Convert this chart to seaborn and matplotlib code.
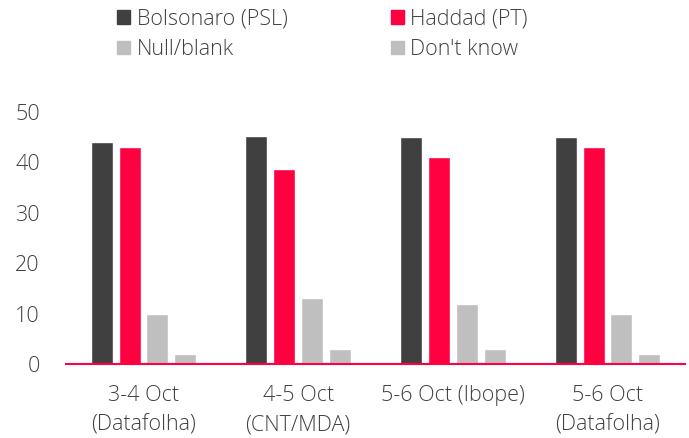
import pandas as pd
import matplotlib.pyplot as plt
import seaborn as sns

# Poll data (second round voting intention, %)
polls = ["3-4 Oct\n(Datafolha)", "4-5 Oct\n(CNT/MDA)", "5-6 Oct (Ibope)", "5-6 Oct\n(Datafolha)"]
series = ["Bolsonaro (PSL)", "Haddad (PT)", "Null/blank", "Don't know"]
bolsonaro = [44, 45.3, 45, 45]
haddad = [43, 38.8, 41, 43]
null_blank = [10, 13, 12, 10]
dont_know = [2, 3, 3, 2]
colors = ["#404040", "#FF0040", "#BFBFBF", "#BFBFBF"]

rows = []
for name, vals in zip(series, [bolsonaro, haddad, null_blank, dont_know]):
    for p, v in zip(polls, vals):
        rows.append({"Poll": p, "Series": name, "Value": v})
df = pd.DataFrame(rows)

sns.set_style("white")
plt.rcParams["font.family"] = ["Open Sans", "DejaVu Sans"]
plt.rcParams["font.weight"] = "light"

fig = plt.figure(figsize=(6.89, 4.38), dpi=100)
ax = fig.add_axes([0.096, 0.169, 0.898, 0.575])

sns.barplot(data=df, x="Poll", y="Value", hue="Series", palette=colors,
            width=0.72, gap=0.21, saturation=1, ax=ax, legend=False)

ax.set_ylim(0, 50)
ax.set_xlim(-0.5, 3.5)
ax.set_yticks([0, 10, 20, 30, 40, 50])
ax.set_xlabel("")
ax.set_ylabel("")
ax.tick_params(axis="both", labelsize=15.5, colors="#404040", length=0)
ax.tick_params(axis="x", pad=15)
ax.tick_params(axis="y", pad=19)
for lbl in ax.get_xticklabels() + ax.get_yticklabels():
    lbl.set_fontweight("light")
    lbl.set_linespacing(1.55)
for s in ["top", "right", "left"]:
    ax.spines[s].set_visible(False)
ax.spines["bottom"].set_color("#FF0040")
ax.spines["bottom"].set_linewidth(1.5)

# Legend in two columns at the top
handles = [plt.Rectangle((0, 0), 1, 1, color=c) for c in colors]
order = [0, 2, 1, 3]
fig.legend([handles[i] for i in order], [series[i] for i in order],
           ncol=2, loc="upper left", bbox_to_anchor=(0.142, 1.025),
           frameon=False, fontsize=15.5, handlelength=0.6, handleheight=0.6,
           handletextpad=0.3, columnspacing=4.8, labelspacing=0.45,
           labelcolor="#404040")

fig.savefig("out.png", dpi=100)
